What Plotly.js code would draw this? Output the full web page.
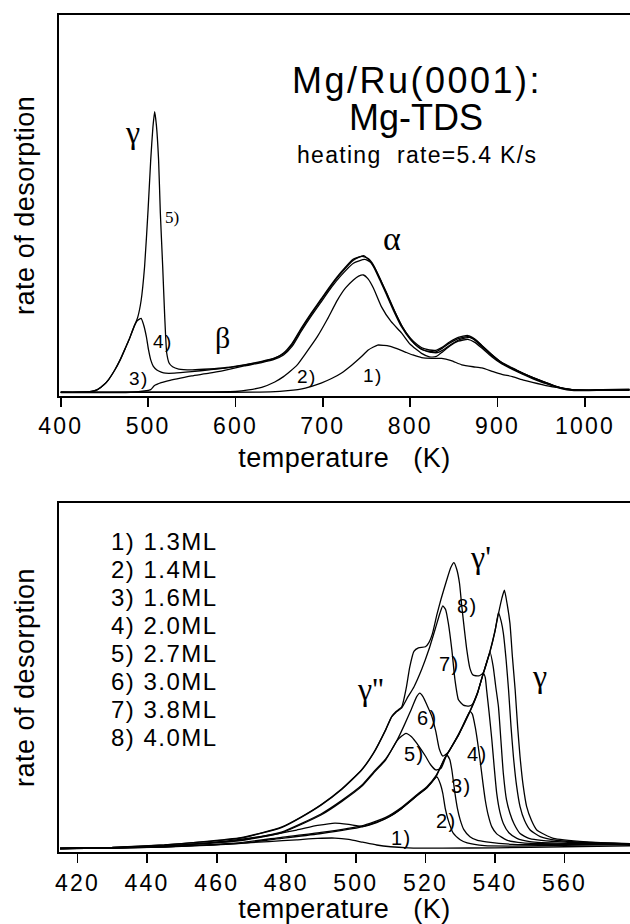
<!DOCTYPE html>
<html>
<head>
<meta charset="utf-8">
<script src="https://cdn.plot.ly/plotly-3.0.1.min.js"></script>
<style>
html, body { margin: 0; padding: 0; background: #fff; overflow: hidden; }
#plot { width: 630px; height: 924px; }
.xtick text, .x2tick text { letter-spacing: 2.2px; }
</style>
</head>
<body>
<div id="plot"></div>
<script>
// ---------- Top panel: Mg-TDS, heating rate 5.4 K/s (temperature K, rate arb. units) ----------
const t1T = [400,640,660,680,698,710,721,733,744,752,762.7,770,776,784,795,803,813,825,836,847,859,872,882,895,905,917,928,940,951,963,974,985,992,1010,1051];
const t1V = [0.9,1.0,1.3,2.0,3.3,4.5,5.9,8.0,10.2,12,13.3,13.2,13.0,12.4,11.4,10.7,10.0,9.8,9.8,9.2,8.1,7.6,7.3,6.3,5.6,5.0,4.2,3.5,2.9,2.3,2.0,1.6,1.5,1.4,1.4];

const t2T = [400,600,615,630,645,655,663,670.7,680,693.7,705,716.7,726,735,741,746.5,752,758,767,778,790,800,813,822,830,837,845,855,866,874,882,893,905,917,928,940,951,963,974,985,1000,1020,1051];
const t2V = [0.9,1.1,1.5,2.2,3.6,5.0,6.5,8.1,11,15.5,20,25.1,28.3,30.4,31.4,31.7,30.6,28.2,23.4,19.5,16.5,13.5,11.1,10.2,10.3,11.5,13.0,14.3,14.8,14.0,12.5,10.3,8.3,6.9,5.7,4.5,3.5,2.6,1.8,1.4,1.3,1.4,1.5];

const t3T = [400,450,480,503,507,515,525,537,550,570,590,610,630,645,655,665,675,687,698,710,721,735,748,755,760,767,774,782,792,802,810,817,824,831,839,847,857,868,876,884,895,907,919,930,942,953,965,976,987,1002,1022,1051];
const t3V = [0.8,0.8,0.9,1.6,2.6,3.4,4.0,4.6,5.2,5.9,6.8,7.8,8.7,9.6,10.7,13.0,16.8,21.0,24.6,28.5,31.6,34.8,35.8,35.0,33.3,30.0,26.5,22.3,17.7,14.4,12.6,11.8,11.4,11.3,12.2,13.5,14.8,15.3,14.4,12.7,10.4,8.3,6.9,5.8,4.6,3.6,2.6,1.9,1.5,1.4,1.5,1.6];

const t4T = [400,420,435,442,450,455,462,468,474,478,484,488,492,495,498,500.5,503,506,510,515,520,530,550,570,590,610,630,645,655,665,675,687,698,710,721,735,745,752,758,765,772,780,790,800,808.6,815,822,829,837,845,855,866,874,882,893,905,917,928,940,951,963,974,985,1000,1020,1051];
const t4V = [0.9,0.9,1.1,1.6,3.0,4.3,6.8,9.4,12.5,14.6,18.2,19.8,20.3,18.5,15.5,12,9.4,7.7,6.75,6.2,5.9,5.9,6.3,6.8,7.3,8.0,8.9,9.8,11.2,13.8,17.6,21.8,25.4,29.3,32.5,35.9,36.6,36.0,34.3,30.9,27.4,23.2,18.5,15.2,13.3,12.4,12.0,11.9,12.8,14.1,15.3,15.8,14.9,13.2,10.9,8.7,7.3,6.0,4.8,3.8,2.8,2.0,1.6,1.5,1.6,1.7];

const t5T = [400,420,435,442,450,455,462,468,474,478,484,488,492,496,500,503,505.5,507.5,509.5,512,514,516.7,519,521.3,524,528,535,550,570,590,610,630,645,655,665,675,687,698,710,721,735,746.5,752,758,765,772,780,790,800,808.6,815,822,829,837,845,855,866,874,882,893,905,917,928,940,951,963,974,985,1000,1020,1051];
const t5V = [0.9,0.9,1.1,1.6,3.0,4.3,6.8,9.4,12.5,14.6,18.2,20.5,25,34,49,62,70.5,74.6,71,61.9,48,33.9,20.8,11.2,8.6,7.6,7.0,6.8,7.0,7.4,8.1,9.0,9.9,11.0,13.5,17.3,21.5,25.1,29,32.2,35.6,36.8,35.8,33.9,30.5,27.0,22.8,18.1,14.8,12.9,12.0,11.6,11.5,12.5,13.8,15.0,15.5,14.6,12.9,10.6,8.5,7.1,5.9,4.7,3.7,2.7,1.9,1.5,1.4,1.5,1.6];

// ---------- Bottom panel: coverage series (temperature K, rate arb. units) ----------
const coverageLabels = ["1) 1.3ML","2) 1.4ML","3) 1.6ML","4) 2.0ML","5) 2.7ML","6) 3.0ML","7) 3.8ML","8) 4.0ML"];

const b1T = [415,430,445,455,465,475,483,489,494,498,502,506,510,515,525,540,560,579];
const b1V = [1.0,1.1,1.5,1.9,2.4,3.0,3.5,3.9,4.0,3.6,2.8,2.0,1.5,1.2,1.1,1.2,1.5,1.8];

const b2T = [415,430,445,455,465,475,483,489,494,498,502,506,510,513.2,517.8,520.5,523.3,524.3,525,525.7,526.6,528,530,532,537,545,560,579];
const b2V = [1.0,1.2,1.7,2.4,3.4,4.8,6.3,7.6,8.3,7.9,7.3,8.4,10.3,12.5,16.3,18.5,21.5,19.5,16.8,12.5,9.0,5.4,3.5,2.6,1.8,1.7,1.9,2.2];

const b3T = [415,430,445,455,467,478.6,490,501.7,508.6,513.2,517.8,520.5,523,526.1,527,527.6,528.5,529.2,530,531,532.8,535,537.5,545,560,579];
const b3V = [1.0,1.1,1.4,1.8,2.5,3.9,5.3,7.2,9.6,12.5,16.3,18.5,21.5,27.8,26.5,23.5,16.8,12.5,9.2,6.5,4.4,3.3,2.9,2.2,2.1,2.3];

const b4T = [415,430,445,455,467,478.6,490,501.7,508.6,513.2,517.8,520.5,523,526,529.5,532.8,533.5,534.3,535,535.7,536.5,537.2,538,539.1,540.5,543.4,548,560,579];
const b4V = [1.0,1.15,1.5,1.95,2.7,4.2,5.6,7.5,9.9,12.8,16.6,18.8,21.8,27.6,33.5,40.2,39.5,35.9,31.5,26.4,20,14.9,10.8,7.2,5.2,3.4,2.6,2.3,2.3];

const b5T = [415,430,445,455,467,478.6,490,496,501.7,505,508.6,512,514.4,516,518,520,521.5,523,524.5,526,529.5,532.8,535,536.7,537.2,537.6,538.3,539.1,539.8,540.5,541.4,542.4,544,546.3,550,560,579];
const b5V = [1.0,1.2,1.7,2.3,3.3,5.5,10.6,14.5,18.8,22.5,26.4,32.1,34,33,30.5,27.5,25,23.5,24,27.5,33.5,40.2,45.5,51.2,50,46.4,40,32.1,24,16.8,11.5,8.2,5.5,3.9,3.0,2.5,2.4];

const b6T = [415,430,445,455,467,478.6,490,496,501.7,505,508.6,512,514,516,517.5,518.4,519.3,520.5,521.8,523,524,525,526.5,529.5,532.8,535,536.7,538.6,539.5,540.2,541,541.7,542.4,543.3,544.3,545.5,547.2,550,560,579];
const b6V = [1.0,1.25,1.75,2.4,3.4,5.7,10.9,14.8,19.1,22.8,26.7,32.3,36.5,41,44.5,45.5,44.5,42,39,34.5,29.5,27.5,28.5,33.7,40.4,45.7,51.4,57.2,53,47.5,41.6,32,22.5,15,11.1,8,5.3,3.8,2.8,2.4];

const b7T = [415,430,445,455,467,478.6,484.4,490.1,496,501.7,505.1,508.6,510.3,511.5,513.2,515,516.7,519,521,523,524.2,525,525.8,526.6,527.6,528.5,529.5,530.9,532.5,533.5,535,536.7,538.6,540,541,541.8,542.4,543.2,543.9,544.6,545.3,546.2,547.2,548.5,550.1,553,558,570,579];
const b7V = [1.0,1.3,2.0,2.8,4.0,7.0,10,13.5,18,23.5,28.3,35,38.7,40,41.3,44.5,47.3,52.5,58,64.5,68.5,70.5,69.5,65.5,57.9,49.3,43.6,42.1,41.8,42.3,45.7,51.4,57.5,63.2,68.6,66,62.7,55,46.4,36,27.3,19,13,9,6.3,4.4,3.3,2.6,2.4];

const b8T = [415,430,445,455,467,478.6,484.4,490.1,496,501.7,505.1,508.6,510.3,511.5,513.2,514.5,515.5,516.7,518,520,521,522,523.3,524.5,526,527.3,528.2,529,529.8,530.4,531,531.9,532.8,533.6,534.5,535.5,536.7,538.6,540,541,542,542.7,543.5,544.3,545,545.8,546.5,547.2,548.1,549.1,550.5,552,556.8,566.4,579];
const b8V = [1.05,1.35,2.05,2.85,4.1,7.1,10.1,13.6,18.1,23.6,28.4,35.1,38.8,40.2,41.6,47,53,57.5,58.5,58.8,60,62.5,68,72.5,77.5,81.5,82.9,81,77,71,65.5,57.9,52.6,50.8,50.5,50.5,51.5,57.7,63.4,68.3,72.8,75,71,65.5,56,46.4,36,27.3,19,13,9,6.3,3.9,2.9,2.3];

// ---------- build traces ----------
const SANS = 'Liberation Sans, Arial, Helvetica, sans-serif';
const SERIF = 'Liberation Serif, Times New Roman, serif';
const INK = '#000000';

function trace(x, y, xa, ya) {
  return {x: x, y: y, xaxis: xa, yaxis: ya, type: 'scatter', mode: 'lines',
          line: {color: INK, width: 1.3, shape: 'spline', smoothing: 0.5},
          hoverinfo: 'skip', showlegend: false};
}
const topSeries = [[t1T,t1V],[t2T,t2V],[t3T,t3V],[t4T,t4V],[t5T,t5V]];
const botSeries = [[b1T,b1V],[b2T,b2V],[b3T,b3V],[b4T,b4V],[b5T,b5V],[b6T,b6V],[b7T,b7V],[b8T,b8V]];
const data = [];
topSeries.forEach(s => data.push(trace(s[0], s[1], 'x', 'y')));
botSeries.forEach(s => data.push(trace(s[0], s[1], 'x2', 'y2')));

function sp(txt, ls) { return '<span style="letter-spacing:' + ls + 'px">' + txt + '</span>'; }
function ann(text, x, y, xr, yr, size, family, extra) {
  return Object.assign({text: text, x: x, y: y, xref: xr, yref: yr, showarrow: false,
          xanchor: 'center', yanchor: 'middle', font: {size: size, family: family, color: INK}}, extra || {});
}

const annotations = [
  ann(sp('Mg/Ru(0001):', 2.5), 807.7, 82.7, 'x', 'y', 36, SANS),
  ann(sp('Mg-TDS', 0), 806.5, 73.2, 'x', 'y', 36, SANS),
  ann(sp('heating\u00a0\u00a0rate=5.4\u00a0K/s', 1.3), 807.7, 63.2, 'x', 'y', 23, SANS),
  ann('γ', 482, 69.2, 'x', 'y', 32, SERIF),
  ann('β', 584.6, 15.4, 'x', 'y', 30, SERIF),
  ann('α', 779.6, 41.4, 'x', 'y', 34, SERIF),
  ann('5)', 527.3, 46.7, 'x', 'y', 17, SERIF),
  ann(sp('4)', 1.5), 516.7, 14.2, 'x', 'y', 19, SANS),
  ann(sp('3)', 1.5), 489, 4.6, 'x', 'y', 19, SANS),
  ann(sp('2)', 1.5), 681.8, 5.1, 'x', 'y', 19, SANS),
  ann(sp('1)', 1.5), 757, 5.2, 'x', 'y', 19, SANS),
  // bottom
  ann("γ'", 535.7, 84.4, 'x2', 'y2', 32, SERIF),
  ann('γ', 552.7, 50.5, 'x2', 'y2', 32, SERIF),
  ann("γ''", 504.3, 46.7, 'x2', 'y2', 32, SERIF),
  ann(sp('8)', 1.5), 532, 70.6, 'x2', 'y2', 20, SANS),
  ann(sp('7)', 1.5), 526.8, 53.9, 'x2', 'y2', 20, SANS),
  ann(sp('6)', 1.5), 520.5, 38.4, 'x2', 'y2', 20, SANS),
  ann(sp('5)', 1.5), 517, 28.1, 'x2', 'y2', 20, SANS),
  ann(sp('4)', 1.5), 534.9, 28.1, 'x2', 'y2', 20, SANS),
  ann(sp('3)', 1.5), 530.3, 19, 'x2', 'y2', 20, SANS),
  ann(sp('2)', 1.5), 526.2, 9, 'x2', 'y2', 20, SANS),
  ann(sp('1)', 1.5), 513, 4, 'x2', 'y2', 20, SANS)
];
coverageLabels.forEach((lab, i) => {
  annotations.push(ann(sp(lab, 1.5), 429, 88.9 - i * 8.02, 'x2', 'y2', 24, SANS, {xanchor: 'left'}));
});

const xCommon = {
  showline: true, mirror: true, linecolor: INK, linewidth: 2,
  ticks: 'outside', ticklen: 9, tickwidth: 1.8, tickcolor: INK,
  showgrid: false, zeroline: false, automargin: false, fixedrange: true,
  tickfont: {size: 23, family: SANS, color: INK}
};
const yCommon = {
  showline: true, linecolor: INK, linewidth: 2, ticks: '', showticklabels: false,
  showgrid: false, zeroline: false, automargin: false, fixedrange: true, range: [0, 100]
};
const xTitle = {text: sp('temperature\u00a0\u00a0\u00a0(K)', 0.5), font: {size: 27, family: SANS, color: INK}, standoff: 10};
const yTitle = {text: sp('rate\u00a0of\u00a0desorption', 0.5), font: {size: 27, family: SANS, color: INK}, standoff: 15};

const layout = {
  width: 630, height: 924,
  margin: {l: 59, r: 0, t: 15, b: 72, pad: 0},
  paper_bgcolor: '#fff', plot_bgcolor: '#fff',
  showlegend: false,
  xaxis: Object.assign({}, xCommon, {anchor: 'y', domain: [0, 1], range: [398, 1051.6], tick0: 400, dtick: 100, title: xTitle}),
  yaxis: Object.assign({}, yCommon, {anchor: 'x', domain: [0.5452, 1], title: yTitle}),
  xaxis2: Object.assign({}, xCommon, {anchor: 'y2', domain: [0, 1], range: [414.7, 578.8], tick0: 420, dtick: 20, title: xTitle}),
  yaxis2: Object.assign({}, yCommon, {anchor: 'x2', domain: [0, 0.41697], title: yTitle}),
  annotations: annotations
};

Plotly.newPlot('plot', data, layout, {displayModeBar: false, staticPlot: true});
</script>
</body>
</html>
